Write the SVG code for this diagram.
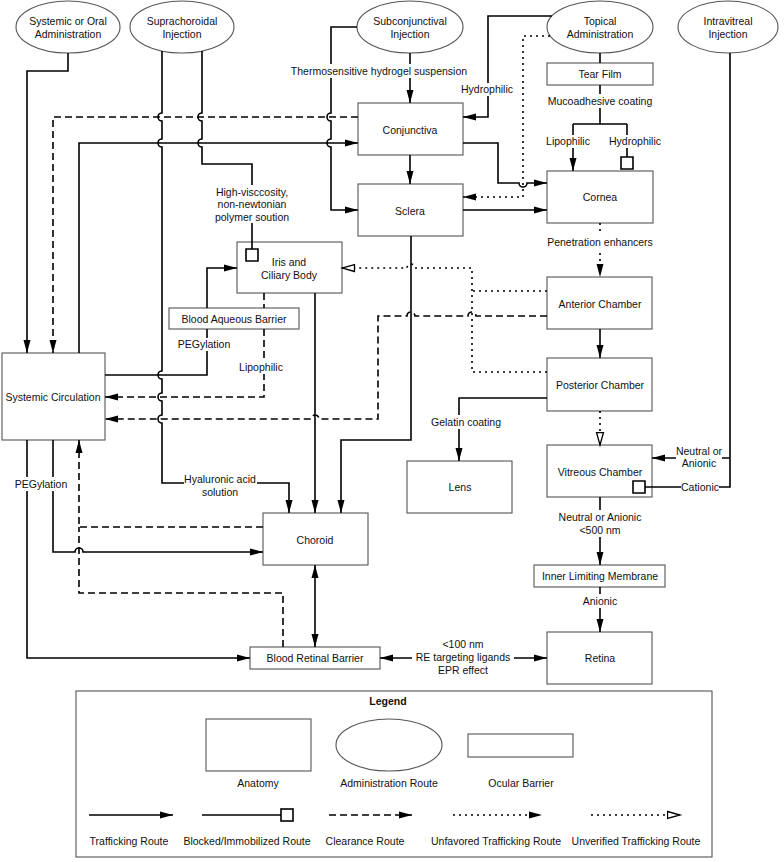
<svg xmlns="http://www.w3.org/2000/svg" width="784" height="862" viewBox="0 0 784 862">
<style>
  text { font-family: "Liberation Sans", Arial, sans-serif; font-size: 10.5px; fill: #111; text-anchor: middle; }
  .node { fill: #fff; stroke: #555; stroke-width: 1.1; }
  .ln { fill: none; stroke: #000; stroke-width: 1.6; }
  .t { marker-end: url(#arr); }
  .c { stroke-dasharray: 7 4; marker-end: url(#arr); }
  .cn { stroke-dasharray: 7 4; }
  .u { stroke-dasharray: 2 4; marker-end: url(#arr); }
  .un { stroke-dasharray: 2 4; }
  .v { stroke-dasharray: 2 4; marker-end: url(#arrOpen); }
  .b { marker-end: url(#blk); }
  .bi { marker-start: url(#arrS); marker-end: url(#arr); }
  .bg { fill: #fff; stroke: none; }
  .title { font-weight: bold; }
</style>
<defs>
  <marker id="arr" markerUnits="userSpaceOnUse" markerWidth="14" markerHeight="10" refX="13" refY="4" orient="auto" viewBox="0 0 14 8">
    <path d="M0,0.5 L13,4 L0,7.5 z" fill="#000" stroke="none"/>
  </marker>
  <marker id="arrS" markerUnits="userSpaceOnUse" markerWidth="14" markerHeight="10" refX="13" refY="4" orient="auto-start-reverse" viewBox="0 0 14 8">
    <path d="M0,0.5 L13,4 L0,7.5 z" fill="#000" stroke="none"/>
  </marker>
  <marker id="arrOpen" markerUnits="userSpaceOnUse" markerWidth="16" markerHeight="12" refX="13.5" refY="5" orient="auto" viewBox="0 0 16 10">
    <path d="M1,1.5 L13.5,5 L1,8.5 z" fill="#fff" stroke="#000" stroke-width="1.3" stroke-dasharray="none"/>
  </marker>
  <marker id="blk" markerUnits="userSpaceOnUse" markerWidth="15" markerHeight="15" refX="0.8" refY="7" orient="auto" viewBox="0 0 15 14">
    <rect x="0.8" y="1" width="12" height="12" fill="#fff" stroke="#000" stroke-width="1.6" stroke-dasharray="none"/>
  </marker>
</defs>
<rect width="784" height="862" fill="#fff"/>

<!-- Nodes -->
<g id="systemic-admin"><ellipse class="node" cx="68" cy="27" rx="52" ry="26"/><text x="68" y="25">Systemic or Oral</text><text x="68" y="38">Administration</text></g>
<g id="suprachoroidal"><ellipse class="node" cx="182" cy="27" rx="52" ry="26"/><text x="182" y="25">Suprachoroidal</text><text x="182" y="38">Injection</text></g>
<g id="subconjunctival"><ellipse class="node" cx="410" cy="27" rx="53" ry="26"/><text x="410" y="25">Subconjunctival</text><text x="410" y="38">Injection</text></g>
<g id="topical"><ellipse class="node" cx="600" cy="27" rx="53" ry="26"/><text x="600" y="25">Topical</text><text x="600" y="38">Administration</text></g>
<g id="intravitreal"><ellipse class="node" cx="728" cy="27" rx="50" ry="26"/><text x="728" y="25">Intravitreal</text><text x="728" y="38">Injection</text></g>

<g id="tear-film"><rect class="node" x="547" y="63" width="106" height="22"/><text x="600" y="78">Tear Film</text></g>
<g id="conjunctiva"><rect class="node" x="358" y="103" width="105" height="52"/><text x="410" y="134">Conjunctiva</text></g>
<g id="sclera"><rect class="node" x="358" y="184" width="105" height="52"/><text x="410" y="215">Sclera</text></g>
<g id="cornea"><rect class="node" x="547" y="171" width="106" height="52"/><text x="600" y="201">Cornea</text></g>
<g id="iris"><rect class="node" x="237" y="242" width="105" height="51"/><text x="289" y="266">Iris and</text><text x="289" y="279">Ciliary Body</text></g>
<g id="blood-aqueous-barrier"><rect class="node" x="169" y="308" width="130" height="21"/><text x="234" y="323">Blood Aqueous Barrier</text></g>
<g id="systemic-circulation"><rect class="node" x="2" y="353" width="103" height="87"/><text x="53" y="401">Systemic Circulation</text></g>
<g id="anterior-chamber"><rect class="node" x="547" y="277" width="105" height="52"/><text x="600" y="308">Anterior Chamber</text></g>
<g id="posterior-chamber"><rect class="node" x="547" y="358" width="105" height="53"/><text x="600" y="389">Posterior Chamber</text></g>
<g id="lens"><rect class="node" x="407" y="461" width="105" height="52"/><text x="460" y="491">Lens</text></g>
<g id="vitreous-chamber"><rect class="node" x="547" y="445" width="105" height="52"/><text x="600" y="476">Vitreous Chamber</text></g>
<g id="choroid"><rect class="node" x="263" y="513" width="105" height="52"/><text x="315" y="544">Choroid</text></g>
<g id="inner-limiting-membrane"><rect class="node" x="534" y="565" width="131" height="22"/><text x="600" y="580">Inner Limiting Membrane</text></g>
<g id="blood-retinal-barrier"><rect class="node" x="250" y="647" width="130" height="22"/><text x="315" y="662">Blood Retinal Barrier</text></g>
<g id="retina"><rect class="node" x="547" y="632" width="105" height="52"/><text x="600" y="662">Retina</text></g>

<!-- Connectors -->
<g id="connectors">
  <path class="ln t" d="M68,53 V71 H27 V353"/>
  <path class="ln t" d="M162,51 V113 a4,4 0 0 0 0,8 V139 a4,4 0 0 0 0,8 V371 a4,4 0 0 0 0,8 V393 a4,4 0 0 0 0,8 V415 a4,4 0 0 0 0,8 V483 H289 V513"/>
  <path class="ln b" d="M202,51 V113 a4,4 0 0 0 0,8 V139 a4,4 0 0 0 0,8 V164 H252 V249"/>
  <path class="ln t" d="M357,27 H331 V113 a4,4 0 0 0 0,8 V139 a4,4 0 0 0 0,8 V210 H358"/>
  <path class="ln t" d="M410,53 V103"/>
  <path class="ln t" d="M552,16 H488 V117 H463"/>
  <path class="ln u" d="M550,36 H523 V197 H463"/>
  <path class="ln t" d="M463,143 H498 V183 H519 a4,4 0 0 0 8,0 H547"/>
  <path class="ln t" d="M410,155 V184"/>
  <path class="ln t" d="M463,210 H547"/>
  <path class="ln" d="M600,53 V63 M600,85 V124 M573,124 H627"/>
  <path class="ln t" d="M573,124 V171"/>
  <path class="ln b" d="M627,124 V157"/>
  <path class="ln u" d="M600,223 V277"/>
  <path class="ln t" d="M600,329 V358"/>
  <path class="ln v" d="M600,411 V445"/>
  <path class="ln t" d="M547,398 H459 V461"/>
  <path class="ln un" d="M547,291 H472"/>
  <path class="ln v" d="M547,372 H472 V268 H415 a4,4 0 0 0 -8,0 H342"/>
  <path class="ln c" d="M547,316 H476 a4,4 0 0 0 -8,0 H415 a4,4 0 0 0 -8,0 H378 V419 H319 a4,4 0 0 0 -8,0 H105"/>
  <path class="ln t" d="M315,293 V513"/>
  <path class="ln t" d="M411,236 V440 H341 V513"/>
  <path class="ln c" d="M264,293 V308 M264,329 V397 H105"/>
  <path class="ln t" d="M105,375 H207 V329 M207,308 V268 H237"/>
  <path class="ln c" d="M358,117 H53 V353"/>
  <path class="ln t" d="M79,353 V143 H358"/>
  <path class="ln t" d="M53,440 V552 H75 a4,4 0 0 1 8,0 H263"/>
  <path class="ln t" d="M27,440 V658 H250"/>
  <path class="ln c" d="M263,527 H79 V440"/>
  <path class="ln cn" d="M283,647 V593 H79 V527"/>
  <path class="ln bi" d="M315,565 V647"/>
  <path class="ln bi" d="M380,658 H547"/>
  <path class="ln t" d="M600,497 V565"/>
  <path class="ln t" d="M600,587 V632"/>
  <path class="ln b" d="M730,53 V487 H645"/>
  <path class="ln t" d="M730,458 H652"/>

  <!-- label backgrounds -->
  <rect class="bg" x="290" y="64" width="178" height="14"/>
  <rect class="bg" x="461" y="83" width="53" height="13"/>
  <rect class="bg" x="546" y="94" width="108" height="14"/>
  <rect class="bg" x="545" y="135" width="47" height="13"/>
  <rect class="bg" x="608" y="135" width="54" height="13"/>
  <rect class="bg" x="212" y="185" width="80" height="38"/>
  <rect class="bg" x="546" y="235" width="108" height="14"/>
  <rect class="bg" x="177" y="338" width="55" height="13"/>
  <rect class="bg" x="238" y="361" width="47" height="13"/>
  <rect class="bg" x="429" y="415" width="75" height="14"/>
  <rect class="bg" x="184" y="472" width="73" height="27"/>
  <rect class="bg" x="14" y="477" width="55" height="14"/>
  <rect class="bg" x="676" y="444" width="46" height="26"/>
  <rect class="bg" x="681" y="480" width="38" height="14"/>
  <rect class="bg" x="553" y="510" width="94" height="27"/>
  <rect class="bg" x="580" y="594" width="40" height="14"/>
  <rect class="bg" x="412" y="637" width="102" height="40"/>

  <text x="379" y="75">Thermosensitive hydrogel suspension</text>
  <text x="487" y="93">Hydrophilic</text>
  <text x="600" y="105">Mucoadhesive coating</text>
  <text x="568" y="145">Lipophilic</text>
  <text x="635" y="145">Hydrophilic</text>
  <text x="252" y="196">High-visccosity,</text>
  <text x="252" y="208">non-newtonian</text>
  <text x="252" y="221">polymer soution</text>
  <text x="600" y="246">Penetration enhancers</text>
  <text x="204" y="348">PEGylation</text>
  <text x="261" y="371">Lipophilic</text>
  <text x="466" y="426">Gelatin coating</text>
  <text x="220" y="483">Hyaluronic acid</text>
  <text x="220" y="496">solution</text>
  <text x="41" y="488">PEGylation</text>
  <text x="699" y="455">Neutral or</text>
  <text x="699" y="467">Anionic</text>
  <text x="700" y="491">Cationic</text>
  <text x="600" y="521">Neutral or Anionic</text>
  <text x="600" y="534">&lt;500 nm</text>
  <text x="600" y="605">Anionic</text>
  <text x="463" y="648">&lt;100 nm</text>
  <text x="463" y="661">RE targeting ligands</text>
  <text x="463" y="674">EPR effect</text>
</g>

<!-- Legend -->
<g id="legend">
  <rect x="76" y="691" width="636" height="166" fill="#fff" stroke="#555" stroke-width="1.1"/>
  <text class="title" x="388" y="705">Legend</text>
  <rect class="node" x="206" y="719" width="105" height="52"/>
  <text x="258" y="787">Anatomy</text>
  <ellipse class="node" cx="389" cy="745" rx="53" ry="26"/>
  <text x="389" y="787">Administration Route</text>
  <rect class="node" x="468" y="734" width="105" height="23"/>
  <text x="521" y="787">Ocular Barrier</text>
  <path class="ln t" d="M89,815 H173"/>
  <path class="ln b" d="M202,815 H281"/>
  <path class="ln c" d="M329,815 H412"/>
  <path class="ln u" d="M453,815 H542"/>
  <path class="ln v" d="M591,815 H680"/>
  <text x="129" y="845">Trafficking Route</text>
  <text x="247" y="845">Blocked/Immobilized Route</text>
  <text x="365" y="845">Clearance Route</text>
  <text x="496" y="845">Unfavored Trafficking Route</text>
  <text x="636" y="845">Unverified Trafficking Route</text>
</g>
</svg>
